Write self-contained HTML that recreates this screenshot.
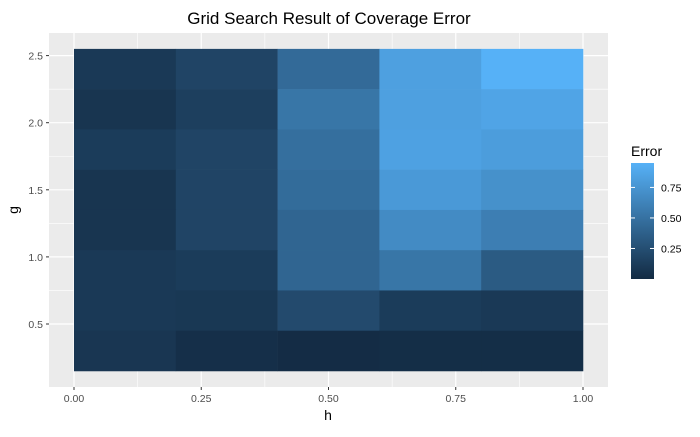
<!DOCTYPE html>
<html><head><meta charset="utf-8"><style>
body{margin:0;background:#fff;font-family:"Liberation Sans",Arial,sans-serif}
</style></head><body>
<svg id="chart" width="700" height="432" xmlns="http://www.w3.org/2000/svg" font-family="Liberation Sans, Arial, sans-serif">
<text x="329" y="24" text-anchor="middle" font-size="17" fill="#000">Grid Search Result of Coverage Error</text>
<rect x="49" y="33" width="559" height="354" fill="#ebebeb"/>
<g id="grid"></g>
<g id="tiles"></g>
<g id="axes"></g>
<text x="328" y="420" text-anchor="middle" font-size="14">h</text>
<text x="18" y="210" text-anchor="middle" font-size="14" transform="rotate(-90 18 210)">g</text>
<g id="legend">
<defs><linearGradient id="lg" x1="0" y1="1" x2="0" y2="0"><stop offset="0" stop-color="#132B43"/><stop offset="1" stop-color="#56B1F7"/></linearGradient></defs>
<text x="631" y="156" font-size="14">Error</text>
<rect x="631" y="163" width="23" height="116" fill="url(#lg)"/>
</g>
</svg>
<script>
const hCenters=[0.1,0.3,0.5,0.7,0.9];
const gCenters=[2.4,2.1,1.8,1.5,1.2,0.9,0.6,0.3];
const errRow24=[0.10,0.18,0.45,0.83,0.95];
const errRow21=[0.07,0.14,0.53,0.83,0.86];
const errRow18=[0.12,0.18,0.48,0.84,0.81];
const errRow15=[0.07,0.18,0.46,0.78,0.72];
const errRow12=[0.07,0.18,0.41,0.68,0.59];
const errRow09=[0.10,0.12,0.41,0.53,0.34];
const errRow06=[0.10,0.09,0.22,0.12,0.10];
const errRow03=[0.08,0.03,0.01,0.02,0.02];
const xTicks=[0,0.25,0.5,0.75,1];
const xTickLabels=["0.00","0.25","0.50","0.75","1.00"];
const yTicks=[0.5,1.0,1.5,2.0,2.5];
const yTickLabels=["0.5","1.0","1.5","2.0","2.5"];
const legTicks=[0.25,0.5,0.75];
const legTickLabels=["0.25","0.50","0.75"];
const rows=[errRow24,errRow21,errRow18,errRow15,errRow12,errRow09,errRow06,errRow03];
const NS="http://www.w3.org/2000/svg";
const xs=h=>74+h*509;
const ys=g=>324-(g-0.5)*134.2;
const maxV=0.95;
const ls=v=>279-v/maxV*116;
function col(v){const t=Math.max(0,Math.min(1,v/maxV));const a=[19,43,67],b=[86,177,247];return "rgb("+a.map((c,i)=>Math.round(c+(b[i]-c)*t)).join(",")+")";}
function mk(tag,at,parent){const e=document.createElementNS(NS,tag);for(const k in at)e.setAttribute(k,at[k]);parent.appendChild(e);return e;}
const grid=document.getElementById('grid'),tiles=document.getElementById('tiles'),axes=document.getElementById('axes'),leg=document.getElementById('legend');
// minor grid
for(let i=0;i<xTicks.length-1;i++){const m=(xTicks[i]+xTicks[i+1])/2;const l=mk('line',{x1:xs(m),x2:xs(m),y1:33,y2:387,stroke:'#fff','stroke-width':0.6},grid);}
for(let i=0;i<yTicks.length-1;i++){const m=(yTicks[i]+yTicks[i+1])/2;const l=mk('line',{x1:49,x2:608,y1:ys(m),y2:ys(m),stroke:'#fff','stroke-width':0.6},grid);}
xTicks.forEach((t,i)=>{const l=mk('line',{x1:xs(t),x2:xs(t),y1:33,y2:387,stroke:'#fff','stroke-width':1.2},grid);
const tk=mk('line',{x1:xs(t),x2:xs(t),y1:387,y2:390,stroke:'#333'},axes);
const tx=mk('text',{x:xs(t),y:402,'text-anchor':'middle','font-size':10.5,fill:'#4d4d4d'},axes);tx.textContent=xTickLabels[i];});
yTicks.forEach((t,i)=>{const l=mk('line',{x1:49,x2:608,y1:ys(t),y2:ys(t),stroke:'#fff','stroke-width':1.2},grid);
const tk=mk('line',{x1:46,x2:49,y1:ys(t),y2:ys(t),stroke:'#333'},axes);
const tx=mk('text',{x:43,y:ys(t)+4,'text-anchor':'end','font-size':10.5,fill:'#4d4d4d'},axes);tx.textContent=yTickLabels[i];});
rows.forEach((r,ri)=>{const g=gCenters[ri];r.forEach((v,ci)=>{const h=hCenters[ci];
const x0=xs(h-0.1),x1=xs(h+0.1),y0=ys(g+0.15),y1=ys(g-0.15);
const c=mk('rect',{x:x0,y:y0,width:x1-x0+0.3,height:y1-y0+0.3,fill:col(v)},tiles);

});});
legTicks.forEach((t,i)=>{const y=ls(t);
mk('line',{x1:631,x2:635,y1:y,y2:y,stroke:'#fff'},leg);mk('line',{x1:650,x2:654,y1:y,y2:y,stroke:'#fff'},leg);
const tx=mk('text',{x:661,y:y+4,'font-size':10.5,fill:'#000'},leg);tx.textContent=legTickLabels[i];

});
</script>
</body></html>
